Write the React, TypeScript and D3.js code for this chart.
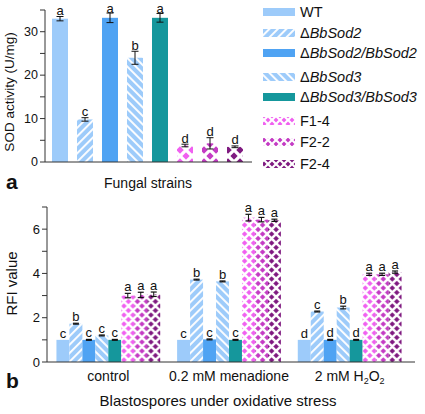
import React from "react";
import * as d3 from "d3";

const strains = ["WT", "ΔBbSod2", "ΔBbSod2/BbSod2", "ΔBbSod3", "ΔBbSod3/BbSod3", "F1-4", "F2-2", "F2-4"];
const sodMean = [33.0, 9.8, 33.2, 24.0, 33.2, 3.8, 4.3, 3.5];
const sodErr = [0.5, 0.4, 1.1, 1.5, 1.0, 0.3, 1.3, 0.2];
const sodLetters = ["a", "c", "a", "b", "a", "d", "d", "d"];

const stresses = ["control", "0.2 mM menadione", "2 mM H2O2"];
const rfiControl = [1.0, 1.73, 1.0, 1.2, 1.0, 3.0, 3.03, 3.06];
const rfiMenadione = [1.0, 3.72, 1.02, 3.64, 1.0, 6.52, 6.43, 6.4];
const rfiH2O2 = [1.0, 2.28, 1.0, 2.46, 1.0, 3.96, 3.96, 4.06];
const rfiErrControl = [0, 0.02, 0.02, 0.02, 0.02, 0.1, 0.12, 0.1];
const rfiErrMenadione = [0, 0.02, 0.02, 0.02, 0.02, 0.15, 0.1, 0.05];
const rfiErrH2O2 = [0, 0.02, 0.02, 0.06, 0.02, 0.05, 0.05, 0.05];
const lettersControl = ["c", "b", "c", "c", "c", "a", "a", "a"];
const lettersMenadione = ["c", "b", "c", "b", "c", "a", "a", "a"];
const lettersH2O2 = ["d", "c", "d", "b", "d", "a", "a", "a"];

const sodTicks = [0, 10, 20, 30];
const rfiTicks = [0, 2, 4, 6];

const LIGHT = "#9DCBFA";
const colors = [LIGHT, LIGHT, "#4FA3F3", LIGHT, "#15979C", "#F060F0", "#C43BC4", "#7F1A80"];
const kinds = ["solid", "fwd", "solid", "back", "solid", "diam", "diam", "diam"];

const FONT = "'Liberation Sans', Arial, sans-serif";

function Patterns({ prefix, diam }: { prefix: string; diam: number }) {
  return (
    <>
      <pattern id={`${prefix}-fwd`} patternUnits="userSpaceOnUse" width={6} height={6} patternTransform="rotate(45)">
        <rect width={6} height={6} fill={LIGHT} />
        <rect x={0} width={1.9} height={6} fill="#fff" />
      </pattern>
      <pattern id={`${prefix}-back`} patternUnits="userSpaceOnUse" width={6} height={6} patternTransform="rotate(-45)">
        <rect width={6} height={6} fill={LIGHT} />
        <rect x={0} width={1.9} height={6} fill="#fff" />
      </pattern>
      {colors.map((c, i) =>
        kinds[i] === "diam" ? (
          <pattern key={i} id={`${prefix}-d${i}`} patternUnits="userSpaceOnUse" width={diam} height={diam}>
            <rect width={diam} height={diam} fill={c} />
            <path d={`M0,0L${diam},${diam}M${diam},0L0,${diam}`} stroke="#fff" strokeWidth={diam / 3.6} />
          </pattern>
        ) : null
      )}
    </>
  );
}

function fillFor(prefix: string, i: number) {
  if (kinds[i] === "fwd") return `url(#${prefix}-fwd)`;
  if (kinds[i] === "back") return `url(#${prefix}-back)`;
  if (kinds[i] === "diam") return `url(#${prefix}-d${i})`;
  return colors[i];
}

function LegendLabel({ name, x, y }: { name: string; x: number; y: number }) {
  if (name.startsWith("Δ")) {
    return (
      <text x={x} y={y} fontSize={14.5} fontFamily={FONT} fill="#111" dominantBaseline="central">
        <tspan>Δ</tspan>
        <tspan fontStyle="italic">{name.slice(1)}</tspan>
      </text>
    );
  }
  return (
    <text x={x} y={y} fontSize={14.5} fontFamily={FONT} fill="#111" dominantBaseline="central">
      {name}
    </text>
  );
}

export default function App() {
  // Panel a
  const xa = d3.scaleBand<string>().domain(strains).range([47.5, 247.5]).paddingInner(0.36).paddingOuter(0.18);
  const ya = d3.scaleLinear().domain([0, 35]).range([162, 10]);
  const aMinor = d3.range(0, 36, 5);

  // Panel b
  const x0 = d3.scaleBand<string>().domain(stresses).range([48, 410]).paddingInner(0.14).paddingOuter(0.07);
  const x1 = d3.scaleBand<string>().domain(strains).range([0, x0.bandwidth()]).padding(0);
  const yb = d3.scaleLinear().domain([0, 7]).range([362, 207]);
  const bMinor = d3.range(0, 8, 1);
  const rfi = [rfiControl, rfiMenadione, rfiH2O2];
  const rfiErr = [rfiErrControl, rfiErrMenadione, rfiErrH2O2];
  const rfiLet = [lettersControl, lettersMenadione, lettersH2O2];

  const legendY = [12, 33, 53, 77, 97, 121, 142, 164];

  return (
    <svg width={425} height={414} style={{ position: "absolute", left: 0, top: 0 }} fontFamily={FONT}>
      <defs>
        <Patterns prefix="pa" diam={12} />
        <Patterns prefix="pb" diam={9} />
        <Patterns prefix="pl" diam={8} />
      </defs>

      {/* Panel a bars */}
      {strains.map((s, i) => {
        const x = xa(s)!;
        const w = xa.bandwidth();
        const cx = x + w / 2;
        const top = ya(sodMean[i] + sodErr[i]);
        return (
          <g key={s}>
            <rect x={x} y={ya(sodMean[i])} width={w} height={ya(0) - ya(sodMean[i])} fill={fillFor("pa", i)} />
            <line x1={cx} x2={cx} y1={ya(sodMean[i] - sodErr[i])} y2={top} stroke="#111" strokeWidth={1} />
            <line x1={cx - 3.5} x2={cx + 3.5} y1={top} y2={top} stroke="#111" strokeWidth={1} />
            <line x1={cx - 3.5} x2={cx + 3.5} y1={ya(sodMean[i] - sodErr[i])} y2={ya(sodMean[i] - sodErr[i])} stroke="#111" strokeWidth={1} />
            <text x={cx} y={Math.max(12.5, top - 1.5)} textAnchor="middle" fontSize={13} fill="#111">{sodLetters[i]}</text>
          </g>
        );
      })}
      {/* Panel a axes */}
      <line x1={45} x2={45} y1={ya(35)} y2={ya(0)} stroke="#333" />
      <line x1={45} x2={252} y1={ya(0)} y2={ya(0)} stroke="#333" />
      {aMinor.map((t) => (
        <line key={t} x1={40} x2={45} y1={ya(t)} y2={ya(t)} stroke="#333" />
      ))}
      {sodTicks.map((t) => (
        <text key={t} x={38} y={ya(t)} textAnchor="end" dominantBaseline="central" fontSize={12.5} fill="#111">{t}</text>
      ))}
      <text transform={`translate(14,${(ya(0) + ya(35)) / 2 + 6}) rotate(-90)`} textAnchor="middle" fontSize={13.5} fill="#111">SOD activity (U/mg)</text>
      <text x={148} y={188} textAnchor="middle" fontSize={14} fill="#111">Fungal strains</text>
      <text x={6} y={189} fontSize={21} fontWeight="bold" fill="#111">a</text>

      {/* Legend */}
      {strains.map((s, i) => (
        <g key={s}>
          <rect x={263} y={legendY[i] - 4} width={32} height={8} fill={fillFor("pl", i)} />
          <LegendLabel name={s} x={300} y={legendY[i]} />
        </g>
      ))}

      {/* Panel b bars */}
      {stresses.map((g, gi) => (
        <g key={g} transform={`translate(${x0(g)},0)`}>
          {strains.map((s, i) => {
            const x = x1(s)!;
            const w = x1.bandwidth();
            const cx = x + w / 2;
            const v = rfi[gi][i];
            const e = rfiErr[gi][i];
            const top = yb(v + e);
            return (
              <g key={s}>
                <rect x={x} y={yb(v)} width={w} height={yb(0) - yb(v)} fill={fillFor("pb", i)} />
                {e > 0 && (
                  <>
                    <line x1={cx} x2={cx} y1={yb(v - e)} y2={top} stroke="#111" />
                    <line x1={cx - 3} x2={cx + 3} y1={top} y2={top} stroke="#111" strokeWidth={1.2} />
                    <line x1={cx - 3} x2={cx + 3} y1={yb(v - e)} y2={yb(v - e)} stroke="#111" strokeWidth={1.2} />
                  </>
                )}
                <text x={cx} y={top - 2} textAnchor="middle" fontSize={13} fill="#111">{rfiLet[gi][i]}</text>
              </g>
            );
          })}
        </g>
      ))}
      {/* Panel b axes */}
      <line x1={47} x2={47} y1={yb(7)} y2={yb(0)} stroke="#333" />
      <line x1={47} x2={415} y1={yb(0)} y2={yb(0)} stroke="#333" />
      {bMinor.map((t) => (
        <line key={t} x1={42} x2={47} y1={yb(t)} y2={yb(t)} stroke="#333" />
      ))}
      {rfiTicks.map((t) => (
        <text key={t} x={40} y={yb(t)} textAnchor="end" dominantBaseline="central" fontSize={13} fill="#111">{t}</text>
      ))}
      <text transform={`translate(17,${(yb(0) + yb(7)) / 2 - 1}) rotate(-90)`} textAnchor="middle" fontSize={15} fill="#111">RFI value</text>
      {stresses.map((g) => {
        const cx = x0(g)! + x0.bandwidth() / 2;
        if (g === "2 mM H2O2") {
          return (
            <text key={g} x={cx} y={381} textAnchor="middle" fontSize={14} fill="#111">
              2 mM H<tspan fontSize={9} dy={3}>2</tspan><tspan dy={-3}>O</tspan><tspan fontSize={9} dy={3}>2</tspan>
            </text>
          );
        }
        return (
          <text key={g} x={cx} y={381} textAnchor="middle" fontSize={14} fill="#111">{g}</text>
        );
      })}
      <text x={218} y={406} textAnchor="middle" fontSize={15} fill="#111">Blastospores under oxidative stress</text>
      <text x={6} y={388} fontSize={21} fontWeight="bold" fill="#111">b</text>
    </svg>
  );
}
